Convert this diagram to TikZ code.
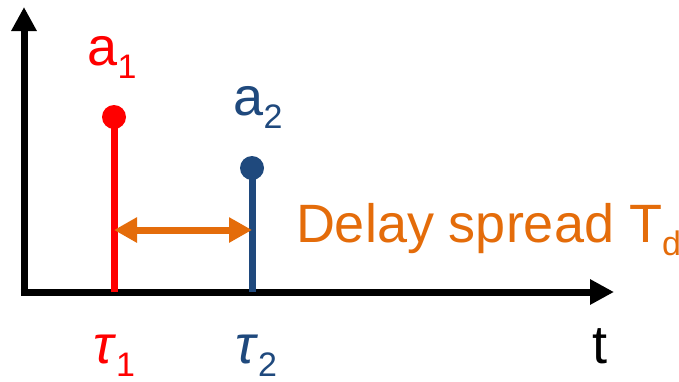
\documentclass[tikz,border=0pt]{standalone}
\usepackage{fontspec}
\setmainfont{Liberation Sans}
\usepackage{tikz}
\usetikzlibrary{arrows.meta, positioning}

\definecolor{pathred}{RGB}{255,0,0}
\definecolor{pathblue}{RGB}{31,73,125}
\definecolor{spreadorange}{RGB}{228,108,10}

% lowered subscript in text mode
\newcommand{\lowsub}[1]{\raisebox{-6.5pt}{\fontsize{17pt}{17pt}\selectfont #1}}

\begin{document}
\begin{tikzpicture}[x=0.5pt, y=-0.5pt, line width=3.5pt]

	\tikzset{
		axis/.style={
				draw=black, -{Triangle[length=12pt, width=12pt]}
			},
		stem/.style={
				line width=3.5pt
			},
		tap/.style={
				circle, inner sep=0pt, outer sep=0pt, minimum size=12pt
			},
		lbl/.style={
				inner sep=0pt, outer sep=0pt, font=\fontsize{27pt}{32pt}\selectfont
			},
		spread/.style={
				draw=spreadorange, {Triangle[length=11.5pt, width=12pt]}-{Triangle[length=11.5pt, width=12pt]}
			},
	}
	\useasboundingbox (0,0) rectangle (679,381);

	\coordinate (origin) at (24,292);
	\coordinate (ytip) at (24,7);
	\coordinate (xtip) at (614,292);
	\coordinate (base1) at (114,292);
	\coordinate (base2) at (252,292);

	\draw[axis] (origin)--(ytip);
	\draw[axis] ([xshift=-1.75pt]origin)--(xtip);

	\node[tap, fill=pathred](dot1) at (114,117){};
	\node[tap, fill=pathblue](dot2) at (252,168){};
	\draw[stem, pathred] (base1)--(dot1.center);
	\draw[stem, pathblue] (base2)--(dot2.center);

	\node[lbl, text=pathred, above=13.5pt of dot1, xshift=-1pt](a1){a\lowsub{1}};
	\node[lbl, text=pathblue, above=14pt of dot2, xshift=3pt](a2){a\lowsub{2}};

	\node[lbl, text=pathred, below=21.5pt of base1](tau1){\textit{τ}\lowsub{1}};
	\node[lbl, text=pathblue, below=21.5pt of base2, xshift=2pt](tau2){\textit{τ}\lowsub{2}};
	\node[lbl, anchor=base](tlbl) at (600,363){t};

	\coordinate (s1) at (114,230);
	\coordinate (s2) at (252,230);
	\draw[spread] (s1)--(s2);
	\node[lbl, text=spreadorange, anchor=base west](td) at (296,242){Delay spread T\lowsub{d}};

\end{tikzpicture}
\end{document}
